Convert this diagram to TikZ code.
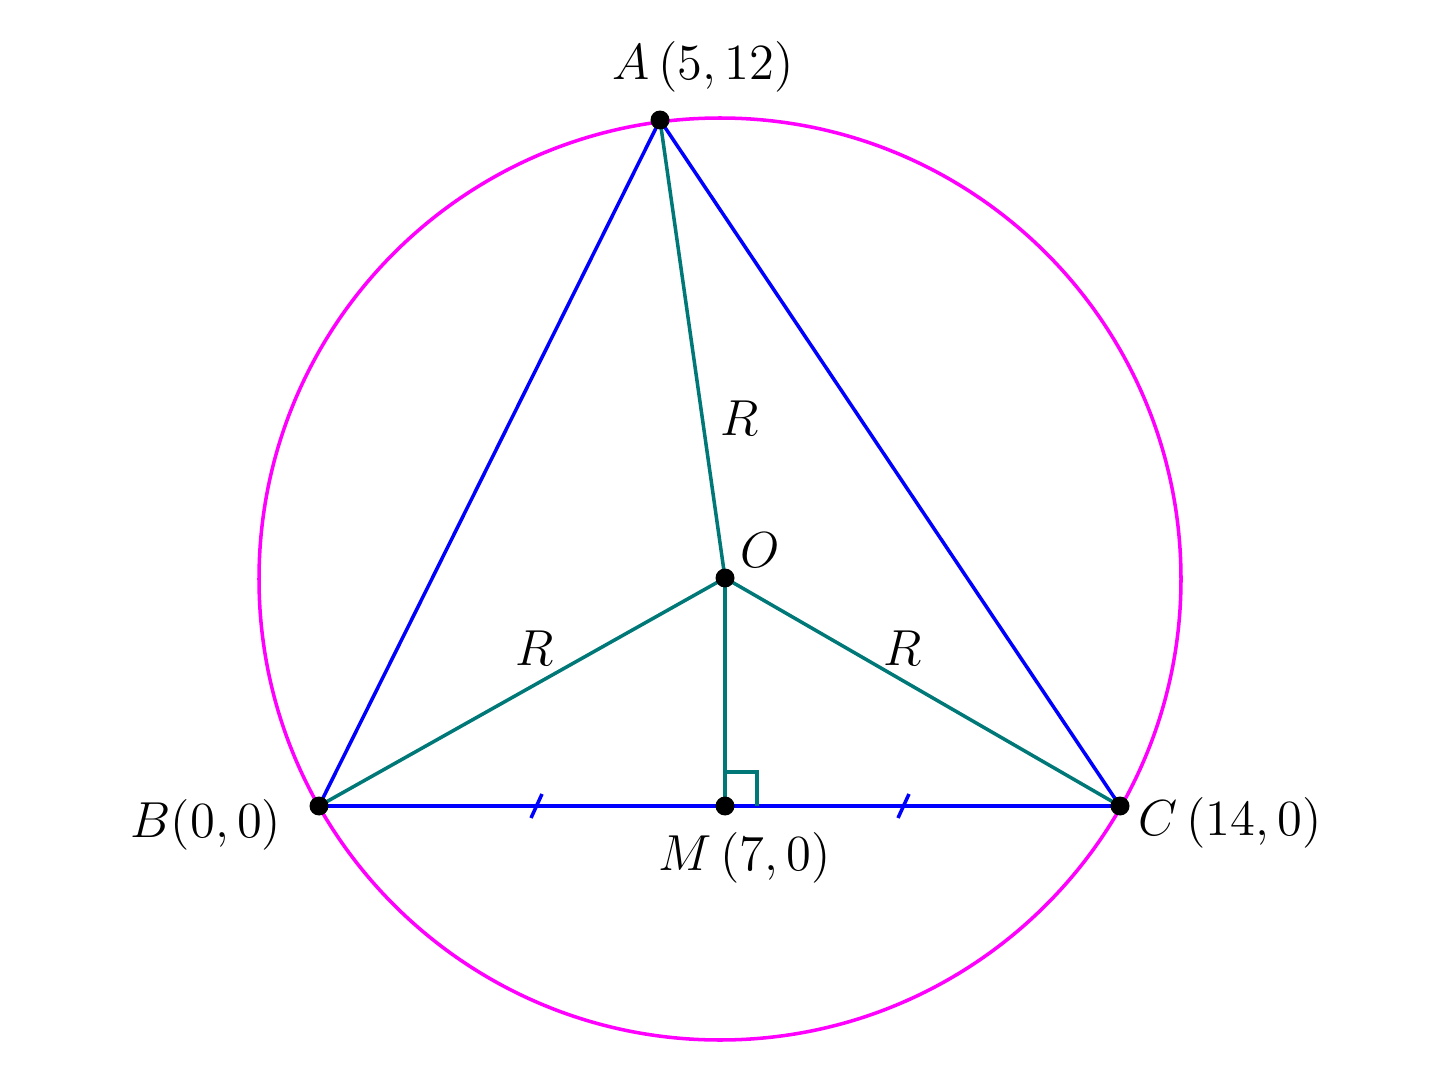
\documentclass[tikz,border=0pt]{standalone}
\begin{document}
\begin{tikzpicture}[x=0.01cm,y=-0.01cm,
  lbl/.style={inner sep=0pt,font=\fontsize{15.5}{18}\selectfont},
  tri/.style={draw=blue,line width=1pt},
  rad/.style={draw=teal,line width=1pt},
  dot/.style={circle,fill=black,inner sep=0pt,minimum size=5.4pt}]
\useasboundingbox (0,0) rectangle (1442,1091);
\definecolor{teal}{RGB}{0,120,120}
\definecolor{mag}{RGB}{255,0,255}
\coordinate (A) at (660,120);
\coordinate (B) at (319,806);
\coordinate (C) at (1120,806);
\coordinate (O) at (725,578);
\coordinate (M) at (725,806);
\draw[mag,line width=1pt] (720,579) circle[radius=461];
\draw[tri] (A) -- (B) -- (C) -- cycle;
\draw[rad] (O) -- (A);
\draw[rad] (O) -- (B);
\draw[rad] (O) -- (C);
\draw[rad] (O) -- (M);
\draw[rad] (725,772) -- (757,772) -- (757,806);
\draw[blue,line width=1pt] (531,818) -- (542,794);
\draw[blue,line width=1pt] (898,818) -- (909,794);
\foreach \p in {A,B,C,O,M} \node[dot] at (\p) {};
\node[lbl] (lA) at (703,67) {$A\,(5,12)$};
\node[lbl] (lB) at (206,825) {$B(0,0)$};
\node[lbl] (lC) at (1230,823) {$C\,(14,0)$};
\node[lbl] (lM) at (745,858) {$M\,(7,0)$};
\node[lbl] (lO) at (760,550) {$O$};
\node[lbl] (r1) at (740,418) {$R$};
\node[lbl] (r2) at (535,648) {$R$};
\node[lbl] (r3) at (903,648) {$R$};
\end{tikzpicture}
\end{document}
